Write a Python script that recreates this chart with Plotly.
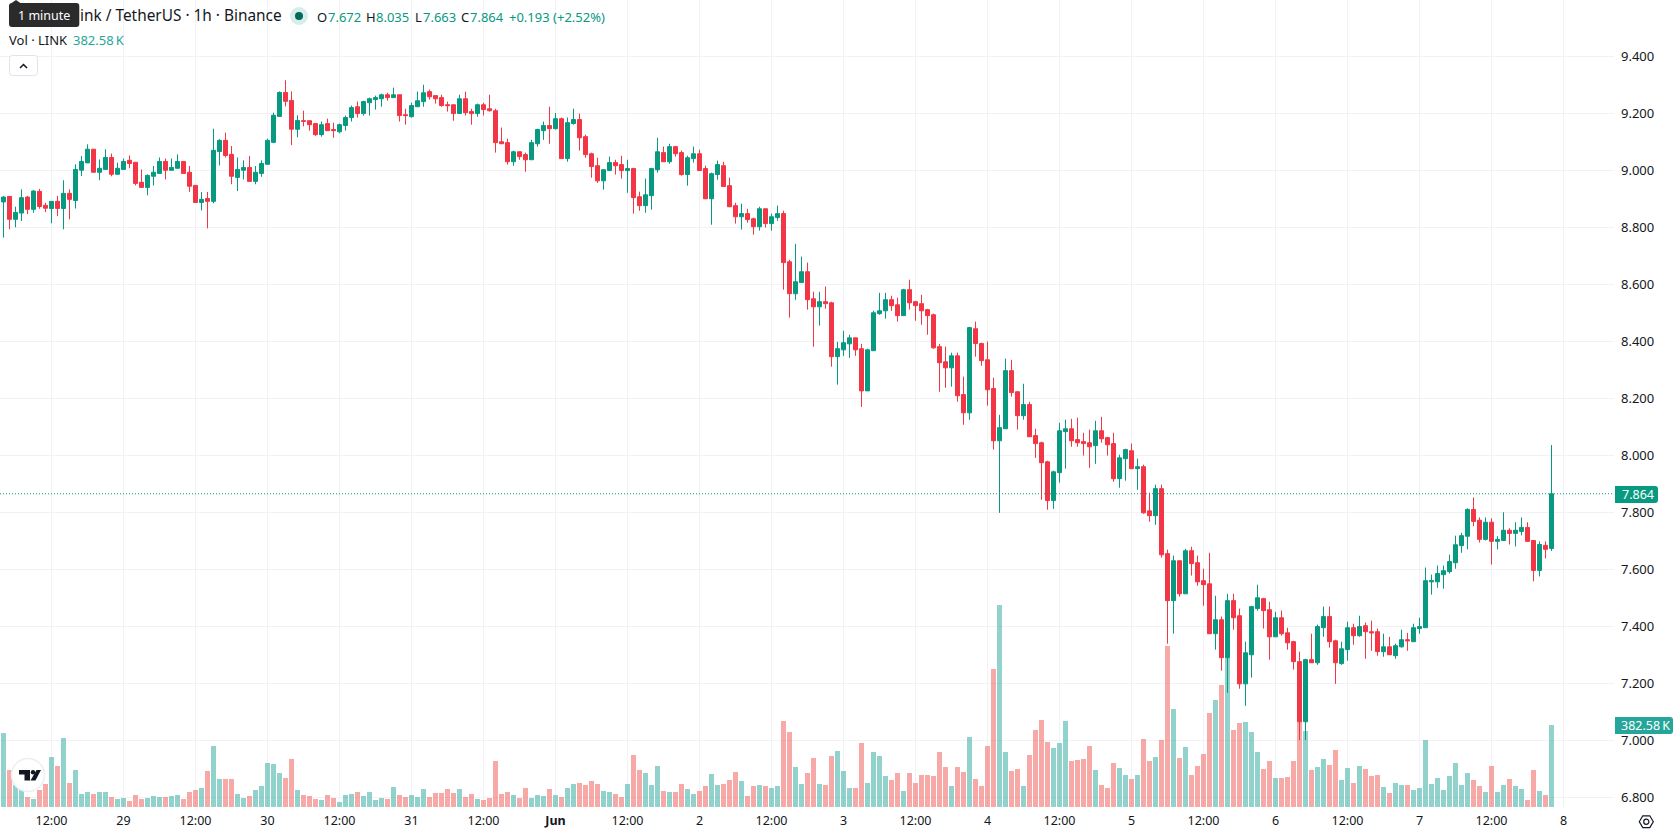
import pandas as pd
import plotly.graph_objects as go

# Hourly LINK/USDT candles, first bar at 04:00 on 28 May
opens = [
    8.888, 8.907, 8.827, 8.849, 8.905, 8.862, 8.925, 8.876, 8.865, 8.890,
    8.865, 8.918, 8.893, 8.999, 9.025, 9.073, 8.992, 9.002, 9.044, 8.985,
    9.002, 9.034, 9.027, 8.957, 8.939, 8.978, 8.988, 9.030, 8.999, 9.006,
    9.030, 8.992, 8.946, 8.886, 8.900, 8.890, 9.065, 9.104, 9.055, 8.974,
    8.999, 9.009, 8.960, 8.988, 9.020, 9.097, 9.188, 9.272, 9.244, 9.143,
    9.173, 9.173, 9.163, 9.124, 9.163, 9.142, 9.134, 9.156, 9.184, 9.222,
    9.198, 9.236, 9.247, 9.250, 9.264, 9.254, 9.264, 9.194, 9.187, 9.222,
    9.240, 9.275, 9.261, 9.254, 9.229, 9.229, 9.198, 9.250, 9.205, 9.198,
    9.229, 9.215, 9.208, 9.099, 9.096, 9.029, 9.064, 9.054, 9.036, 9.092,
    9.138, 9.156, 9.145, 9.180, 9.040, 9.163, 9.177, 9.117, 9.057, 9.015,
    8.962, 8.998, 9.026, 9.019, 8.998, 9.005, 8.906, 8.875, 8.910, 9.001,
    9.061, 9.029, 9.082, 9.061, 8.984, 9.040, 9.057, 9.005, 8.899, 8.984,
    9.015, 8.945, 8.875, 8.836, 8.847, 8.829, 8.801, 8.864, 8.812, 8.833,
    8.847, 8.678, 8.566, 8.605, 8.643, 8.548, 8.520, 8.538, 8.534, 8.345,
    8.369, 8.390, 8.411, 8.373, 8.225, 8.366, 8.496, 8.506, 8.545, 8.527,
    8.489, 8.580, 8.538, 8.531, 8.510, 8.492, 8.380, 8.327, 8.306, 8.348,
    8.212, 8.148, 8.443, 8.391, 8.334, 8.233, 8.050, 8.092, 8.296, 8.222,
    8.138, 8.177, 8.068, 8.043, 7.976, 7.840, 7.938, 8.082, 8.092, 8.054,
    8.047, 8.043, 8.033, 8.085, 8.061, 8.040, 7.917, 7.987, 8.015, 7.952,
    7.959, 7.804, 7.787, 7.882, 7.654, 7.489, 7.629, 7.513, 7.664, 7.622,
    7.559, 7.548, 7.373, 7.422, 7.289, 7.489, 7.436, 7.197, 7.299, 7.461,
    7.496, 7.457, 7.362, 7.429, 7.376, 7.345, 7.275, 7.064, 7.282, 7.271,
    7.394, 7.433, 7.348, 7.268, 7.317, 7.394, 7.366, 7.401, 7.380, 7.380,
    7.310, 7.327, 7.296, 7.327, 7.352, 7.345, 7.391, 7.394, 7.555, 7.555,
    7.580, 7.591, 7.622, 7.682, 7.715, 7.809, 7.771, 7.704, 7.764, 7.697,
    7.700, 7.736, 7.725, 7.732, 7.746, 7.700, 7.595, 7.683, 7.672,
]
highs = [
    8.909, 8.909, 8.871, 8.932, 8.909, 8.930, 8.934, 8.885, 8.891, 8.909,
    8.964, 8.932, 9.020, 9.049, 9.090, 9.073, 9.037, 9.073, 9.058, 9.026,
    9.040, 9.051, 9.027, 9.002, 8.985, 9.014, 9.044, 9.040, 9.040, 9.055,
    9.030, 9.014, 8.946, 8.923, 8.923, 9.145, 9.108, 9.131, 9.084, 9.044,
    9.034, 9.049, 9.014, 9.034, 9.110, 9.201, 9.276, 9.315, 9.276, 9.192,
    9.208, 9.173, 9.165, 9.170, 9.180, 9.166, 9.163, 9.191, 9.226, 9.240,
    9.243, 9.254, 9.261, 9.268, 9.271, 9.289, 9.264, 9.215, 9.236, 9.275,
    9.299, 9.282, 9.261, 9.264, 9.240, 9.229, 9.264, 9.275, 9.215, 9.233,
    9.236, 9.264, 9.215, 9.149, 9.110, 9.068, 9.064, 9.061, 9.106, 9.145,
    9.170, 9.222, 9.200, 9.184, 9.184, 9.215, 9.198, 9.124, 9.061, 9.043,
    9.003, 9.047, 9.036, 9.050, 9.036, 9.008, 8.924, 8.970, 9.008, 9.113,
    9.082, 9.092, 9.085, 9.068, 9.050, 9.082, 9.071, 9.015, 8.991, 9.033,
    9.029, 8.973, 8.885, 8.882, 8.864, 8.833, 8.871, 8.864, 8.847, 8.875,
    8.857, 8.685, 8.741, 8.696, 8.675, 8.573, 8.573, 8.591, 8.538, 8.397,
    8.436, 8.422, 8.411, 8.390, 8.373, 8.506, 8.569, 8.569, 8.559, 8.552,
    8.583, 8.615, 8.541, 8.562, 8.513, 8.496, 8.390, 8.380, 8.359, 8.359,
    8.275, 8.450, 8.468, 8.394, 8.398, 8.271, 8.141, 8.338, 8.334, 8.222,
    8.250, 8.187, 8.092, 8.047, 7.980, 7.945, 8.113, 8.124, 8.127, 8.131,
    8.078, 8.089, 8.120, 8.134, 8.064, 8.078, 8.001, 8.022, 8.040, 7.987,
    7.966, 7.868, 7.896, 7.896, 7.668, 7.647, 7.629, 7.671, 7.678, 7.647,
    7.601, 7.657, 7.506, 7.433, 7.513, 7.513, 7.461, 7.345, 7.471, 7.545,
    7.499, 7.485, 7.450, 7.454, 7.394, 7.348, 7.310, 7.285, 7.373, 7.405,
    7.468, 7.468, 7.352, 7.345, 7.415, 7.408, 7.436, 7.412, 7.419, 7.391,
    7.373, 7.362, 7.338, 7.387, 7.376, 7.408, 7.429, 7.605, 7.580, 7.612,
    7.612, 7.650, 7.717, 7.727, 7.813, 7.851, 7.781, 7.781, 7.778, 7.715,
    7.799, 7.743, 7.764, 7.781, 7.764, 7.700, 7.697, 7.697, 8.035,
]
lows = [
    8.763, 8.792, 8.799, 8.821, 8.845, 8.850, 8.864, 8.852, 8.813, 8.838,
    8.792, 8.827, 8.865, 8.979, 9.025, 8.992, 8.964, 9.002, 8.978, 8.985,
    9.002, 9.006, 8.946, 8.939, 8.911, 8.946, 8.988, 8.967, 8.999, 9.006,
    8.988, 8.923, 8.886, 8.858, 8.795, 8.883, 9.016, 9.044, 8.950, 8.926,
    8.967, 8.960, 8.950, 8.976, 9.020, 9.094, 9.188, 9.223, 9.087, 9.115,
    9.153, 9.138, 9.120, 9.117, 9.138, 9.113, 9.129, 9.138, 9.170, 9.184,
    9.191, 9.191, 9.212, 9.222, 9.243, 9.254, 9.170, 9.159, 9.184, 9.222,
    9.222, 9.247, 9.233, 9.222, 9.205, 9.173, 9.198, 9.191, 9.159, 9.187,
    9.191, 9.205, 9.061, 9.092, 9.019, 9.015, 9.036, 8.994, 9.036, 9.082,
    9.106, 9.092, 9.142, 9.040, 9.029, 9.159, 9.068, 9.043, 8.973, 8.955,
    8.931, 8.998, 8.984, 8.970, 8.920, 8.847, 8.857, 8.850, 8.861, 8.991,
    9.029, 9.022, 9.047, 8.980, 8.945, 9.026, 8.998, 8.899, 8.808, 8.966,
    8.942, 8.871, 8.812, 8.791, 8.815, 8.773, 8.787, 8.798, 8.787, 8.822,
    8.580, 8.482, 8.545, 8.605, 8.510, 8.380, 8.454, 8.513, 8.310, 8.247,
    8.348, 8.341, 8.348, 8.169, 8.225, 8.366, 8.492, 8.478, 8.506, 8.468,
    8.489, 8.510, 8.471, 8.457, 8.422, 8.373, 8.222, 8.236, 8.240, 8.187,
    8.106, 8.124, 8.345, 8.313, 8.173, 8.019, 7.797, 8.092, 8.205, 8.089,
    8.124, 8.064, 7.990, 7.843, 7.808, 7.811, 7.903, 7.952, 8.029, 8.029,
    7.998, 7.955, 7.969, 8.043, 7.998, 7.906, 7.885, 7.910, 7.952, 7.878,
    7.794, 7.766, 7.755, 7.640, 7.338, 7.373, 7.503, 7.513, 7.577, 7.541,
    7.471, 7.373, 7.317, 7.243, 7.166, 7.387, 7.180, 7.120, 7.219, 7.454,
    7.391, 7.282, 7.362, 7.366, 7.317, 7.247, 7.000, 7.000, 7.271, 7.264,
    7.362, 7.324, 7.197, 7.264, 7.278, 7.334, 7.362, 7.285, 7.313, 7.296,
    7.292, 7.299, 7.285, 7.324, 7.313, 7.345, 7.373, 7.394, 7.510, 7.534,
    7.531, 7.584, 7.601, 7.657, 7.669, 7.750, 7.693, 7.700, 7.616, 7.669,
    7.700, 7.686, 7.679, 7.718, 7.697, 7.557, 7.574, 7.637, 7.663,
]
closes = [
    8.905, 8.827, 8.851, 8.903, 8.862, 8.926, 8.872, 8.866, 8.890, 8.865,
    8.918, 8.897, 9.002, 9.030, 9.073, 8.992, 9.006, 9.044, 8.985, 9.006,
    9.030, 9.023, 8.953, 8.939, 8.981, 8.992, 9.030, 8.999, 9.009, 9.030,
    8.988, 8.943, 8.886, 8.897, 8.890, 9.069, 9.104, 9.051, 8.978, 9.002,
    9.009, 8.960, 8.992, 9.023, 9.104, 9.192, 9.272, 9.241, 9.143, 9.174,
    9.171, 9.159, 9.124, 9.159, 9.138, 9.138, 9.159, 9.184, 9.219, 9.198,
    9.240, 9.250, 9.254, 9.264, 9.254, 9.264, 9.191, 9.191, 9.226, 9.243,
    9.271, 9.257, 9.250, 9.226, 9.226, 9.198, 9.250, 9.201, 9.198, 9.229,
    9.212, 9.208, 9.096, 9.092, 9.029, 9.064, 9.047, 9.036, 9.096, 9.142,
    9.156, 9.145, 9.180, 9.040, 9.166, 9.177, 9.113, 9.054, 9.012, 8.962,
    9.001, 9.026, 9.015, 8.998, 9.005, 8.903, 8.875, 8.913, 9.005, 9.064,
    9.029, 9.082, 9.057, 8.984, 9.043, 9.057, 8.998, 8.899, 8.987, 9.019,
    8.942, 8.871, 8.836, 8.847, 8.826, 8.801, 8.864, 8.812, 8.836, 8.847,
    8.675, 8.566, 8.608, 8.643, 8.545, 8.520, 8.538, 8.531, 8.345, 8.373,
    8.394, 8.411, 8.369, 8.225, 8.369, 8.499, 8.506, 8.545, 8.524, 8.489,
    8.580, 8.534, 8.524, 8.506, 8.489, 8.376, 8.324, 8.306, 8.348, 8.208,
    8.148, 8.447, 8.391, 8.331, 8.229, 8.050, 8.096, 8.296, 8.219, 8.138,
    8.177, 8.064, 8.040, 7.973, 7.840, 7.941, 8.085, 8.092, 8.050, 8.043,
    8.040, 8.029, 8.085, 8.057, 8.036, 7.917, 7.990, 8.019, 7.952, 7.959,
    7.797, 7.787, 7.882, 7.650, 7.489, 7.629, 7.513, 7.664, 7.619, 7.555,
    7.545, 7.373, 7.422, 7.289, 7.489, 7.429, 7.197, 7.306, 7.468, 7.499,
    7.454, 7.362, 7.429, 7.373, 7.341, 7.275, 7.064, 7.282, 7.271, 7.398,
    7.433, 7.345, 7.271, 7.320, 7.394, 7.366, 7.398, 7.380, 7.376, 7.310,
    7.327, 7.299, 7.331, 7.352, 7.348, 7.394, 7.398, 7.559, 7.559, 7.584,
    7.594, 7.626, 7.685, 7.717, 7.809, 7.767, 7.704, 7.764, 7.697, 7.704,
    7.736, 7.725, 7.736, 7.746, 7.697, 7.595, 7.686, 7.669, 7.864,
]
# Traded volume per hour, thousands of LINK
volumes = [
    345, 173, 103, 79, 47, 37, 79, 107, 233, 191,
    322, 112, 173, 61, 70, 61, 70, 70, 47, 37,
    42, 28, 56, 37, 42, 51, 47, 47, 51, 56,
    37, 70, 79, 89, 168, 285, 131, 131, 131, 61,
    42, 51, 79, 98, 205, 201, 159, 135, 224, 79,
    56, 51, 37, 33, 56, 42, 23, 56, 61, 70,
    51, 70, 33, 42, 37, 93, 56, 47, 56, 47,
    84, 47, 65, 65, 84, 65, 84, 47, 61, 37,
    33, 42, 215, 61, 70, 56, 42, 89, 42, 56,
    51, 84, 56, 47, 89, 107, 112, 103, 121, 107,
    75, 70, 61, 47, 107, 243, 173, 159, 103, 191,
    75, 70, 70, 107, 84, 61, 75, 98, 154, 103,
    107, 126, 163, 121, 51, 98, 103, 98, 89, 98,
    401, 350, 187, 107, 159, 229, 107, 103, 238, 261,
    168, 89, 89, 299, 112, 257, 238, 145, 126, 159,
    75, 159, 112, 149, 149, 145, 257, 187, 98, 187,
    163, 327, 131, 98, 285, 644, 942, 257, 168, 177,
    98, 243, 359, 406, 303, 275, 299, 401, 215, 219,
    224, 285, 173, 103, 89, 205, 182, 149, 131, 149,
    317, 215, 233, 313, 751, 457, 229, 280, 149, 191,
    247, 439, 499, 569, 695, 359, 392, 397, 350, 257,
    177, 215, 135, 135, 140, 215, 397, 355, 173, 187,
    224, 196, 266, 126, 182, 112, 191, 177, 145, 149,
    93, 65, 112, 103, 103, 79, 89, 313, 107, 135,
    79, 145, 205, 103, 159, 126, 98, 70, 191, 70,
    103, 131, 98, 84, 33, 173, 75, 56, 382.58,
]
assert len(opens) == len(highs) == len(lows) == len(closes) == len(volumes) == 259

first_bar = "2022-05-28 04:00"
last_price = closes[-1]
price_ticks = [6.8, 7.0, 7.2, 7.4, 7.6, 7.8, 8.0, 8.2, 8.4, 8.6, 8.8, 9.0, 9.2, 9.4]
time_ticks = [
    ("2022-05-28 12:00", "12:00"), ("2022-05-29 00:00", "29"), ("2022-05-29 12:00", "12:00"),
    ("2022-05-30 00:00", "30"), ("2022-05-30 12:00", "12:00"), ("2022-05-31 00:00", "31"),
    ("2022-05-31 12:00", "12:00"), ("2022-06-01 00:00", "<b>Jun</b>"), ("2022-06-01 12:00", "12:00"),
    ("2022-06-02 00:00", "2"), ("2022-06-02 12:00", "12:00"), ("2022-06-03 00:00", "3"),
    ("2022-06-03 12:00", "12:00"), ("2022-06-04 00:00", "4"), ("2022-06-04 12:00", "12:00"),
    ("2022-06-05 00:00", "5"), ("2022-06-05 12:00", "12:00"), ("2022-06-06 00:00", "6"),
    ("2022-06-06 12:00", "12:00"), ("2022-06-07 00:00", "7"), ("2022-06-07 12:00", "12:00"),
    ("2022-06-08 00:00", "8"),
]

UP = "#089981"
DOWN = "#F23645"
VOL_UP = "rgba(38,166,154,0.5)"
VOL_DOWN = "rgba(239,83,80,0.5)"
INK = "#131722"
GRID = "#F1F2F4"
FONT = "Noto Sans"

W, H = 1678, 835
PLOT_W, PLOT_H = 1614, 807
HOUR_PX = 6.0
PRICE_PX = 285.0
KVOL_PX = 1 / 4.666
FIRST_BAR_PX = 3.5


def px(x):
    return x / PLOT_W


def py(y):
    return 1 - y / PLOT_H


times = pd.date_range(first_bar, periods=len(closes), freq="h")
span_start = times[0] - pd.Timedelta(hours=FIRST_BAR_PX / HOUR_PX)
span_end = span_start + pd.Timedelta(hours=PLOT_W / HOUR_PX)
price_low = 6.8 - (PLOT_H - 797) / PRICE_PX
price_high = price_low + PLOT_H / PRICE_PX

vol_colors = [VOL_UP if c >= o else VOL_DOWN for o, c in zip(opens, closes)]

fig = go.Figure()
fig.add_trace(go.Bar(
    x=times, y=volumes, marker=dict(color=vol_colors, line=dict(width=0)),
    width=5 / HOUR_PX * 3600_000, yaxis="y", hoverinfo="skip", showlegend=False,
))
fig.add_trace(go.Candlestick(
    x=times, open=opens, high=highs, low=lows, close=closes, yaxis="y2",
    increasing=dict(line=dict(color=UP, width=1), fillcolor=UP),
    decreasing=dict(line=dict(color=DOWN, width=1), fillcolor=DOWN),
    whiskerwidth=0, hoverinfo="skip", showlegend=False,
))


def text(x, y, s, color=INK, size=13, anchor="left"):
    return dict(
        xref="paper", yref="paper", x=px(x), y=py(y), text=s, showarrow=False,
        xanchor=anchor, yanchor="middle", font=dict(family=FONT, size=size, color=color),
        borderpad=0, borderwidth=0,
    )


def path_shape(path, fill=None, line=None, width=1):
    return dict(
        type="path", xref="paper", yref="paper", path=path, layer="above",
        fillcolor=fill if fill else "rgba(0,0,0,0)",
        line=dict(color=line if line else "rgba(0,0,0,0)", width=width if line else 0),
    )


def rounded(x0, y0, x1, y1, rl, rr):
    """Closed rectangle path with separate left and right corner radii, in chart pixels."""
    def P(x, y):
        return f"{px(x):.6f},{py(y):.6f}"
    return (
        f"M{P(x0 + rl, y0)} L{P(x1 - rr, y0)} Q{P(x1, y0)} {P(x1, y0 + rr)} "
        f"L{P(x1, y1 - rr)} Q{P(x1, y1)} {P(x1 - rr, y1)} L{P(x0 + rl, y1)} "
        f"Q{P(x0, y1)} {P(x0, y1 - rl)} L{P(x0, y0 + rl)} Q{P(x0, y0)} {P(x0 + rl, y0)} Z"
    )


def poly(points):
    return "M" + " L".join(f"{px(x):.6f},{py(y):.6f}" for x, y in points) + " Z"


def oval(cx, cy, r, **style):
    return dict(
        type="circle", xref="paper", yref="paper", layer="above",
        x0=px(cx - r), x1=px(cx + r), y0=py(cy + r), y1=py(cy - r), **style,
    )


shapes = [
    # last price line
    dict(type="line", xref="paper", yref="y2", x0=0, x1=1, y0=last_price, y1=last_price,
         line=dict(color=UP, width=1, dash="1px,2px"), layer="above"),
    # axis value tags
    path_shape(rounded(1615, 486, 1658, 503, 0, 3), fill=UP),
    path_shape(rounded(1615, 717, 1673, 734, 0, 3), fill="#26A69A"),
    # tooltip over the legend
    path_shape(rounded(9, 3, 79.3, 27, 3, 3), fill="#2B2B2B"),
    path_shape(poly([(11, 3.5), (16, 0), (21, 3.5)]), fill="#2B2B2B"),
    # collapse button
    path_shape(rounded(9.5, 55.5, 37.5, 75.5, 3, 3), fill="#FFFFFF", line="#E0E3EB"),
    dict(type="path", xref="paper", yref="paper", layer="above",
         path=f"M{px(20):.6f},{py(68):.6f} L{px(23.5):.6f},{py(64.5):.6f} L{px(27):.6f},{py(68):.6f}",
         line=dict(color=INK, width=1.5)),
    # status dot
    oval(299, 16, 9, fillcolor="#D7EDE9", line=dict(width=0)),
    oval(299, 16, 4, fillcolor="#00695C", line=dict(width=0)),
    # chart logo badge
    oval(28, 775, 16.5, fillcolor="#FFFFFF", line=dict(color="#EDEEF0", width=1.5)),
    path_shape(poly([(19, 770), (30, 770), (30, 780.5), (24.5, 780.5), (24.5, 774.5), (19, 774.5)]), fill="#131722"),
    oval(33, 772.2, 2.2, fillcolor="#131722", line=dict(width=0)),
    path_shape(poly([(36.5, 770), (41, 770), (35.5, 780.5), (30.5, 780.5)]), fill="#131722"),
    # settings icon in the axis corner
    path_shape(poly([(1639.3, 821.7), (1642.8, 815.8), (1649.8, 815.8), (1653.3, 821.7), (1649.8, 827.6), (1642.8, 827.6)]),
               line=INK, width=1.2),
    oval(1646.3, 821.7, 2.6, line=dict(color=INK, width=1.2)),
]

annotations = [
    text(79.5, 16, "ink / TetherUS · 1h · Binance", size=15.4),
    text(43.5, 15.5, "1 minute", color="#FFFFFF", size=12.5, anchor="center"),
    text(316.5, 16.5, "O"), text(327.5, 16.5, "7.672", UP),
    text(366, 16.5, "H"), text(375.5, 16.5, "8.035", UP),
    text(415, 16.5, "L"), text(423, 16.5, "7.663", UP),
    text(461, 16.5, "C"), text(470, 16.5, "7.864", UP),
    text(508.5, 16.5, "+0.193 (+2.52%)", UP),
    text(9, 40.5, "Vol · LINK"),
    text(73, 40.5, "382.58\u2009K", "#26A69A"),
    text(1621.5, 494.5, "7.864", "#FFFFFF", size=12.5),
    text(1621, 725.5, "382.58\u2009K", "#FFFFFF", size=12.5),
]

fig.update_layout(
    width=W, height=H, autosize=False,
    margin=dict(l=0, r=W - PLOT_W, t=0, b=H - PLOT_H, pad=0),
    paper_bgcolor="#FFFFFF", plot_bgcolor="#FFFFFF",
    font=dict(family=FONT, size=12.5, color=INK),
    showlegend=False, bargap=0, boxgap=1 / 3, boxgroupgap=0, boxmode="overlay", dragmode=False,
    xaxis=dict(
        range=[span_start, span_end], type="date", rangeslider=dict(visible=False),
        tickmode="array", tickvals=[t for t, _ in time_ticks], ticktext=[s for _, s in time_ticks],
        tickangle=0, ticks="", showgrid=True, gridcolor=GRID, gridwidth=1, showline=False, zeroline=False,
        tickfont=dict(family=FONT, size=12.5, color=INK), ticklabelstandoff=4,
    ),
    yaxis=dict(
        range=[0, PLOT_H / KVOL_PX], showgrid=False, showticklabels=False, ticks="",
        zeroline=False, showline=False,
    ),
    yaxis2=dict(
        range=[price_low, price_high], overlaying="y", side="right", tickmode="array",
        tickvals=price_ticks, ticktext=[f"{v:.3f}" for v in price_ticks],
        ticks="", showgrid=True, gridcolor=GRID, gridwidth=1, zeroline=False, showline=False,
        tickfont=dict(family=FONT, size=13, color=INK), ticklabelstandoff=6,
    ),
    shapes=shapes,
    annotations=annotations,
)

fig.write_html("out.html", config=dict(displayModeBar=False, staticPlot=True))
